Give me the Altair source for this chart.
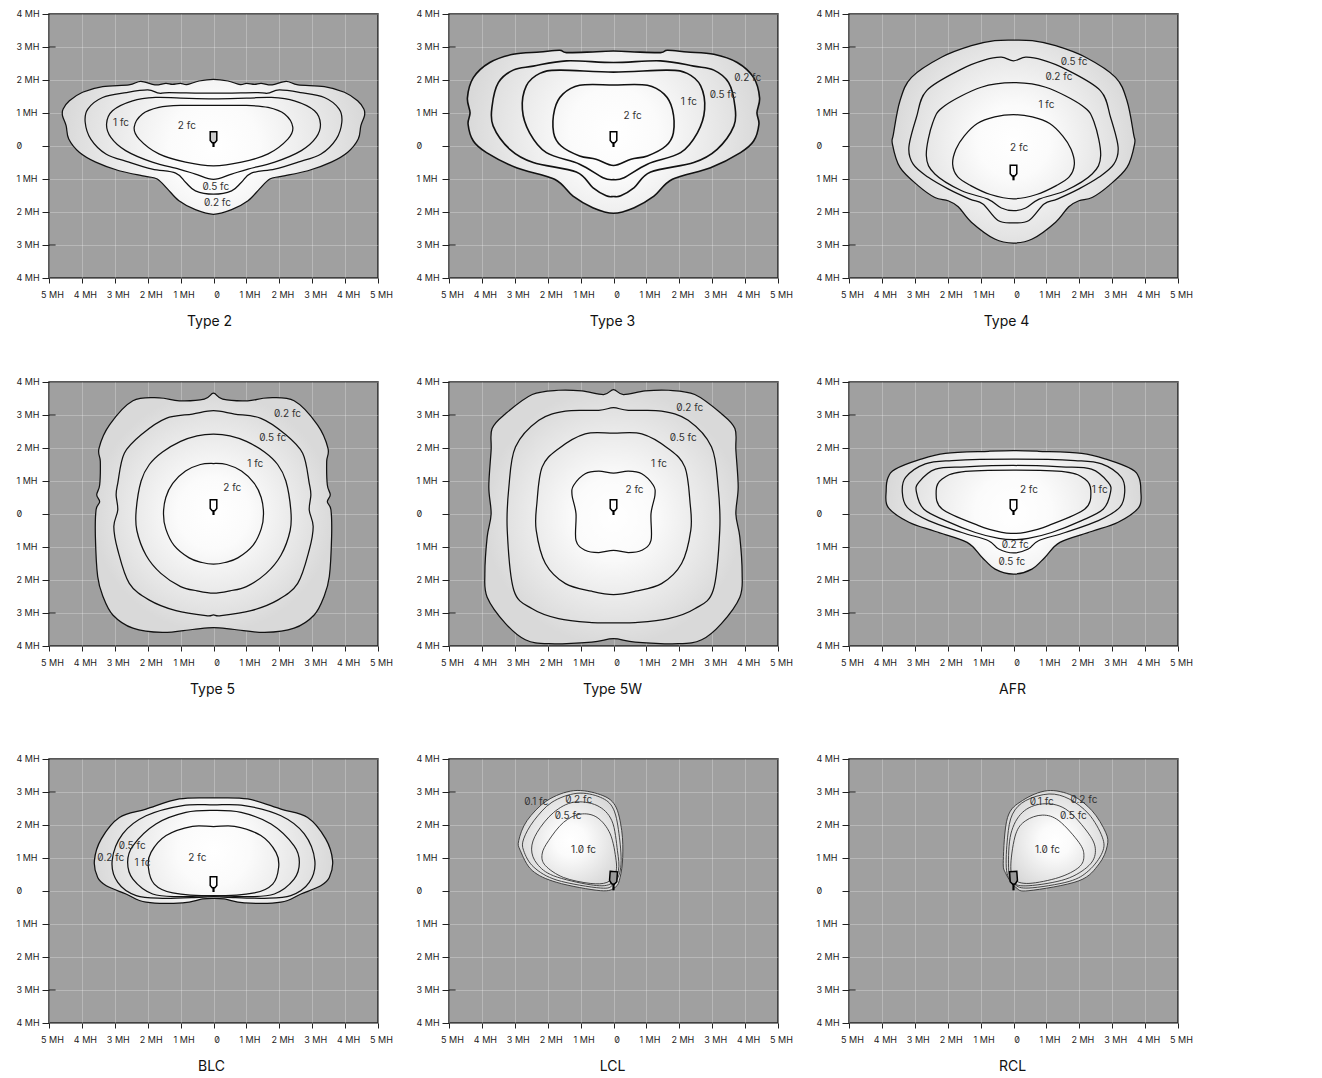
import altair as alt
import pandas as pd

FONT = "Inter"
Z = "0\u0338"
TICKS_X = [-5, -4, -3, -2, -1, 0, 1, 2, 3, 4, 5]
TICKS_Y = [-4, -3, -2, -1, 0, 1, 2, 3, 4]
LONG_TICKS = [-3, 3]

# right halves, top to bottom (mirrored about x = 0)
T2_A = [(0,2.02),(0.44,1.97),(0.81,1.86),(1.0,1.90),(1.25,1.87),(1.45,1.90),(1.78,1.85),(2.21,1.96),(2.57,1.85),(3.37,1.80),(3.98,1.63),(4.38,1.37),(4.57,1.12),(4.59,0.92),(4.48,0.62),(4.40,0.21),(4.08,-0.19),(3.58,-0.49),(2.87,-0.75),(2.06,-0.92),(1.71,-1.0),(1.40,-1.30),(1.05,-1.66),(0.55,-1.93),(0,-2.07)]
T2_B = [(0,1.6),(1.35,1.62),(1.65,1.60),(2.0,1.70),(2.65,1.62),(3.37,1.47),(3.82,1.12),(3.9,0.72),(3.73,0.21),(3.27,-0.24),(2.57,-0.49),(1.86,-0.7),(1.15,-0.82),(0.85,-1.1),(0.55,-1.36),(0,-1.46)]
T2_C = [(0,1.43),(1.0,1.45),(1.76,1.47),(2.46,1.37),(3.07,1.07),(3.25,0.67),(3.12,0.26),(2.67,-0.14),(1.86,-0.49),(1.05,-0.7),(0.55,-0.85),(0,-1.01)]
T2_D = [(0,1.23),(1.0,1.23),(1.66,1.17),(2.16,0.97),(2.41,0.57),(2.26,0.21),(1.66,-0.24),(0.85,-0.49),(0,-0.6)]
T3_A = [(0,2.88),(0.63,2.85),(1.43,2.83),(1.64,2.90),(2.24,2.85),(3.05,2.78),(3.76,2.53),(4.26,2.07),(4.44,1.46),(4.36,1.01),(4.42,0.66),(4.26,0.15),(3.86,-0.2),(2.95,-0.66),(1.79,-1.01),(1.23,-1.52),(0.63,-1.87),(0,-2.04)]
T3_B = [(0,2.53),(1.43,2.58),(2.44,2.42),(3.05,2.30),(3.5,1.92),(3.69,1.21),(3.66,0.61),(3.15,-0.1),(2.44,-0.5),(1.13,-0.79),(0.63,-1.26),(0.22,-1.51),(0,-1.53)]
T3_C = [(0,2.24),(1.64,2.30),(2.24,2.2),(2.65,1.82),(2.77,1.11),(2.55,0.40),(2.04,-0.2),(1.03,-0.55),(0.32,-0.96),(0,-1.02)]
T3_D = [(0,1.85),(1.03,1.84),(1.54,1.57),(1.79,1.11),(1.82,0.40),(1.59,0),(1.03,-0.3),(0.53,-0.4),(0,-0.59)]
T4_A = [(0,3.21),(0.57,3.19),(1.28,3.04),(2.19,2.69),(3.1,2.08),(3.45,1.37),(3.65,0.36),(3.68,0.06),(3.45,-0.65),(2.9,-1.2),(2.39,-1.56),(1.99,-1.66),(1.68,-1.84),(1.28,-2.31),(0.57,-2.82),(0,-2.94)]
T4_B = [(0,2.58),(0.37,2.69),(0.87,2.61),(1.58,2.33),(2.64,1.68),(2.95,0.87),(3.18,-0.04),(3.05,-0.55),(2.59,-0.95),(1.99,-1.3),(1.33,-1.61),(0.93,-1.76),(0.47,-2.26),(0,-2.33)]
T4_C = [(0,1.92),(0.98,1.78),(2.09,1.22),(2.45,0.72),(2.65,-0.29),(2.39,-0.85),(1.59,-1.35),(0.78,-1.61),(0.37,-1.88),(0,-1.96)]
T4_D = [(0,0.95),(0.57,0.88),(1.1,0.68),(1.5,0.3),(1.75,-0.1),(1.85,-0.55),(1.7,-0.93),(1.3,-1.2),(0.7,-1.47),(0,-1.6)]
T5_A = [(0,3.66),(0.28,3.48),(1.04,3.43),(1.65,3.52),(2.45,3.43),(3.16,2.70),(3.48,1.99),(3.44,1.59),(3.46,0.88),(3.55,0.58),(3.46,0.37),(3.57,0.12),(3.59,-0.69),(3.52,-1.9),(3.36,-2.5),(3.06,-3.06),(2.45,-3.46),(1.55,-3.59),(0.64,-3.5),(0,-3.44)]
T5_B = [(0,3.13),(0.64,3.03),(1.44,2.9),(2.15,2.44),(2.71,1.84),(2.91,0.93),(2.96,0.58),(2.91,0.12),(3.03,-0.38),(2.91,-1.09),(2.56,-2.1),(1.95,-2.61),(1.14,-2.93),(0.23,-3.08),(0,-3.06)]
T5_C = [(0,2.42),(0.5,2.37),(1.0,2.2),(1.55,1.88),(1.95,1.5),(2.2,1.0),(2.35,0.12),(2.33,-0.5),(2.05,-1.25),(1.6,-1.8),(1.0,-2.2),(0.5,-2.33),(0,-2.4)]
T5_D = [(0,1.53),(0.4,1.5),(0.85,1.3),(1.24,0.93),(1.45,0.5),(1.52,0),(1.45,-0.45),(1.2,-0.95),(0.74,-1.33),(0.35,-1.47),(0,-1.52)]
W_A = [(0,3.77),(0.30,3.62),(0.96,3.73),(1.67,3.75),(2.47,3.62),(3.28,3.04),(3.69,2.59),(3.72,1.93),(3.79,0.82),(3.72,0),(3.84,-0.7),(3.91,-1.81),(3.84,-2.52),(3.28,-3.32),(2.68,-3.81),(1.97,-3.93),(0.66,-3.88),(0,-3.78)]
W_B = [(0,3.22),(0.45,3.14),(1.46,3.12),(2.27,2.84),(2.98,2.03),(3.18,0.82),(3.23,-0.49),(3.03,-2.31),(2.47,-2.87),(1.67,-3.17),(0.66,-3.29),(0,-3.3)]
W_C = [(0,2.45),(0.86,2.43),(1.67,1.98),(2.17,1.42),(2.33,0.31),(2.35,-0.49),(2.07,-1.5),(1.46,-2.11),(0.66,-2.34),(0,-2.44)]
W_D = [(0,1.24),(0.45,1.3),(0.86,1.22),(1.21,0.87),(1.26,0.57),(1.14,0.01),(1.14,-0.8),(0.86,-1.1),(0.45,-1.17),(0,-1.1)]
AF_A = [(0,1.92),(0.76,1.90),(2.07,1.84),(2.88,1.64),(3.59,1.36),(3.81,1.11),(3.87,0.71),(3.81,0.2),(3.18,-0.25),(2.37,-0.53),(1.41,-0.86),(0.96,-1.31),(0.56,-1.67),(0,-1.82)]
AF_B = [(0,1.66),(1.87,1.62),(2.68,1.52),(3.28,1.11),(3.38,0.66),(3.23,0.2),(2.58,-0.2),(1.57,-0.56),(0.76,-0.81),(0.45,-1.06),(0,-1.18)]
AF_C = [(0,1.47),(1.46,1.43),(2.37,1.36),(2.88,0.96),(2.95,0.66),(2.73,0.15),(2.07,-0.2),(1.16,-0.56),(0.45,-0.74),(0,-0.78)]
AF_D = [(0,1.33),(1.57,1.28),(2.17,1.06),(2.35,0.71),(2.17,0.15),(1.06,-0.35),(0.35,-0.56),(0,-0.59)]
BL_A = [(0,2.82),(1.04,2.79),(2.05,2.48),(2.86,2.23),(3.41,1.58),(3.62,0.92),(3.52,0.41),(3.26,0.16),(2.66,-0.09),(2.05,-0.34),(0.94,-0.36),(0.33,-0.24),(0,-0.22)]
BL_B = [(0,2.61),(0.94,2.59),(2.05,2.28),(2.76,1.73),(3.08,0.92),(2.91,0.26),(2.35,-0.14),(1.55,-0.22),(0.43,-0.19),(0,-0.17)]
BL_C = [(0,2.44),(0.84,2.38),(1.75,2.03),(2.45,1.37),(2.61,0.87),(2.45,0.36),(1.85,-0.09),(1.04,-0.17),(0,-0.14)]
BL_D = [(0,1.95),(0.64,1.96),(1.44,1.68),(1.9,1.17),(1.98,0.72),(1.8,0.21),(1.24,-0.06),(0,-0.15)]
# complete closed outlines
LC_A = [(-1.21,3.04),(-0.4,2.92),(0.05,2.59),(0.25,1.83),(0.28,1.02),(0.2,0.41),(0.05,0.11),(-0.4,0.01),(-1.72,0.26),(-2.47,0.62),(-2.83,1.22),(-2.88,1.53),(-2.63,2.13),(-2.02,2.74)]
LC_B = [(-1.11,2.96),(-0.4,2.84),(0,2.48),(0.18,1.63),(0.22,0.72),(0,0.21),(-0.4,0.09),(-1.72,0.33),(-2.42,0.72),(-2.73,1.22),(-2.73,1.58),(-2.42,2.13),(-1.87,2.69)]
LC_C = [(-1.21,2.69),(-0.5,2.59),(-0.05,2.13),(0.12,1.22),(0.15,0.62),(-0.1,0.21),(-0.71,0.19),(-1.82,0.46),(-2.32,0.82),(-2.49,1.27),(-2.32,1.78),(-1.82,2.38)]
LC_D = [(-1.01,2.33),(-0.5,2.23),(-0.1,1.73),(0.08,0.92),(0.05,0.52),(-0.2,0.26),(-0.71,0.23),(-1.52,0.41),(-2.07,0.77),(-2.17,1.12),(-1.97,1.53),(-1.52,2.08)]
RC_A = [(1.03,3.04),(1.79,2.89),(2.39,2.43),(2.8,1.78),(2.85,1.37),(2.6,0.82),(1.99,0.31),(0.47,0.01),(0.07,0.11),(-0.23,0.52),(-0.31,0.92),(-0.18,2.23),(0.27,2.74)]
RC_B = [(1.08,2.94),(1.69,2.79),(2.29,2.33),(2.7,1.63),(2.7,1.17),(2.29,0.62),(1.69,0.29),(0.47,0.09),(0.02,0.21),(-0.21,0.62),(-0.18,1.63),(-0.03,2.33),(0.37,2.74)]
RC_C = [(0.88,2.64),(1.59,2.48),(2.29,1.73),(2.49,1.22),(2.29,0.77),(1.59,0.36),(0.47,0.16),(-0.03,0.26),(-0.15,0.72),(-0.08,1.73),(0.27,2.38)]
RC_D = [(0.88,2.3),(1.38,2.13),(1.99,1.47),(2.14,1.07),(1.99,0.72),(1.38,0.41),(0.47,0.23),(0.02,0.36),(-0.08,0.82),(0.07,1.73),(0.37,2.13)]

# contour labels: text, x, y
L_T2 = [("2 fc",-0.81,0.62),("1 fc",-2.81,0.69),(Z+".5 fc",0.07,-1.23),(Z+".2 fc",0.12,-1.73)]
L_T3 = [("2 fc",0.58,0.92),("1 fc",2.29,1.33),(Z+".5 fc",3.33,1.54),(Z+".2 fc",4.08,2.05)]
L_T4 = [("2 fc",0.17,-0.06),("1 fc",1.0,1.25),(Z+".2 fc",1.38,2.09),(Z+".5 fc",1.84,2.55)]
L_T5 = [("2 fc",0.57,0.79),("1 fc",1.27,1.52),(Z+".5 fc",1.8,2.31),(Z+".2 fc",2.25,3.04)]
L_W = [("2 fc",0.64,0.72),("1 fc",1.38,1.53),(Z+".5 fc",2.12,2.31),(Z+".2 fc",2.32,3.2)]
L_AF = [("2 fc",0.47,0.74),("1 fc",2.62,0.73),(Z+".2 fc",0.05,-0.94),(Z+".5 fc",-0.05,-1.44)]
L_BL = [("2 fc",-0.49,1.0),("1 fc",-2.16,0.85),(Z+".5 fc",-2.47,1.35),(Z+".2 fc",-3.12,0.99)]
L_LC = [(Z+".1 fc",-2.35,2.69),(Z+".2 fc",-1.06,2.77),(Z+".5 fc",-1.38,2.28),("1."+Z+" fc",-0.91,1.24)]
L_RC = [(Z+".1 fc",0.86,2.69),(Z+".2 fc",2.14,2.77),(Z+".5 fc",1.82,2.28),("1."+Z+" fc",1.03,1.24)]

# luminaire glyph outlines
ICON = [(-0.1,0.43),(0.1,0.43),(0.1,0.17),(0.04,0.1),(-0.04,0.1),(-0.1,0.17)]
ICON_TAIL = [(0,0.12),(0,-0.03)]
ICON_T4 = [(-0.1,-0.58),(0.1,-0.58),(0.1,-0.84),(0.04,-0.91),(-0.04,-0.91),(-0.1,-0.84)]
ICON_T4_TAIL = [(0,-0.89),(0,-1.04)]
ICON_LC = [(-0.1,0.6),(0.12,0.58),(0.1,0.28),(0.02,0.2),(-0.06,0.22),(-0.12,0.32)]
ICON_LC_TAIL = [(0,0.22),(0,0.02)]
ICON_RC = [(-0.12,0.58),(0.1,0.6),(0.12,0.32),(0.06,0.22),(-0.02,0.2),(-0.1,0.28)]
ICON_RC_TAIL = [(0,0.22),(0,0.02)]


def mirror(half):
    return half + [(-x, y) for x, y in reversed(half) if x != 0]


def frame(points):
    return pd.DataFrame({"x": [p[0] for p in points], "y": [p[1] for p in points], "i": range(len(points))})


GRAD = {"gradient": "radial", "stops": [
    {"offset": 0, "color": "#ffffff"}, {"offset": 0.3, "color": "#fbfbfb"},
    {"offset": 1, "color": "#d9d9d9"}]}
SX = alt.Scale(domain=[-5, 5], nice=False, zero=False)
SY = alt.Scale(domain=[-4, 4], nice=False, zero=False)
LABEL = f"datum.value == 0 ? '{Z}' : abs(datum.value) + ' MH'"


def outline(points, sw, color="#111111", interp="cardinal-closed", **mark):
    return alt.Chart(frame(points)).mark_line(
        interpolate=interp, stroke=color, strokeWidth=sw, **mark
    ).encode(x=alt.X("x:Q", scale=SX, axis=None), y=alt.Y("y:Q", scale=SY, axis=None), order="i:Q")


def panel(title, title_x, contours, labels, icon, tail, sw=1.25, color="#111111", icon_fill="#ffffff00"):
    axes = alt.Chart(pd.DataFrame({"x": [0], "y": [0]})).mark_point(opacity=0).encode(
        x=alt.X("x:Q", scale=SX, axis=alt.Axis(
            values=TICKS_X, labelExpr=LABEL, title=title, titleX=title_x, titleFont=FONT, titleFontSize=14,
            titleFontWeight="normal", titleColor="#111", titlePadding=15, labelFont=FONT,
            labelFontSize=9, labelColor="#222", labelPadding=7, labelOffset=3, tickSize=5,
            tickColor="#222", domain=False, grid=True, gridColor="#ffffff", gridOpacity=0.25,
            gridWidth=1, labelFlush=False, labelOverlap=False)),
        y=alt.Y("y:Q", scale=SY, axis=alt.Axis(
            values=TICKS_Y, labelExpr=LABEL, title=None, labelFont=FONT, labelFontSize=9,
            labelColor="#222", labelAlign="left", labelPadding=26, labelOffset=-1, tickSize=7,
            tickColor="#222", domain=False, grid=True, gridColor="#ffffff", gridOpacity=0.25,
            gridWidth=1, labelFlush=False, labelOverlap=False)),
    )
    long_ticks = alt.Chart(pd.DataFrame({"x": [-5] * len(LONG_TICKS), "x2": [-4.8] * len(LONG_TICKS), "y": LONG_TICKS})).mark_rule(
        color="#222", strokeWidth=1).encode(
        x=alt.X("x:Q", scale=SX, axis=None), x2="x2:Q", y=alt.Y("y:Q", scale=SY, axis=None))
    parts = [axes, long_ticks, outline(contours[0], sw, color, fill=GRAD)]
    parts += [outline(c, sw, color) for c in contours[1:]]
    text = pd.DataFrame(labels, columns=["t", "x", "y"])
    parts.append(alt.Chart(text).mark_text(font=FONT, fontSize=10, color="#333").encode(
        x=alt.X("x:Q", scale=SX, axis=None), y=alt.Y("y:Q", scale=SY, axis=None), text="t:N"))
    parts.append(outline(icon, 1.5, "#000000", interp="linear-closed", fill=icon_fill))
    parts.append(alt.Chart(frame(tail)).mark_line(stroke="#000000", strokeWidth=2.2).encode(
        x=alt.X("x:Q", scale=SX, axis=None), y=alt.Y("y:Q", scale=SY, axis=None), order="i:Q"))
    return alt.layer(*parts).resolve_axis(x="independent", y="independent").properties(width=329, height=264)


row1 = alt.hconcat(
    panel("Type 2", 160, [mirror(T2_A), mirror(T2_B), mirror(T2_C), mirror(T2_D)], L_T2, ICON, ICON_TAIL, icon_fill="#cccccc"),
    panel("Type 3", 163, [mirror(T3_A), mirror(T3_B), mirror(T3_C), mirror(T3_D)], L_T3, ICON, ICON_TAIL, sw=1.6),
    panel("Type 4", 157, [mirror(T4_A), mirror(T4_B), mirror(T4_C), mirror(T4_D)], L_T4, ICON_T4, ICON_T4_TAIL),
    spacing=21)
row2 = alt.hconcat(
    panel("Type 5", 163, [mirror(T5_A), mirror(T5_B), mirror(T5_C), mirror(T5_D)], L_T5, ICON, ICON_TAIL),
    panel("Type 5W", 163, [mirror(W_A), mirror(W_B), mirror(W_C), mirror(W_D)], L_W, ICON, ICON_TAIL),
    panel("AFR", 163, [mirror(AF_A), mirror(AF_B), mirror(AF_C), mirror(AF_D)], L_AF, ICON, ICON_TAIL),
    spacing=21)
row3 = alt.hconcat(
    panel("BLC", 162, [mirror(BL_A), mirror(BL_B), mirror(BL_C), mirror(BL_D)], L_BL, ICON, ICON_TAIL),
    panel("LCL", 163, [LC_A, LC_B, LC_C, LC_D], L_LC, ICON_LC, ICON_LC_TAIL, sw=0.9, color="#333333", icon_fill="#999999"),
    panel("RCL", 163, [RC_A, RC_B, RC_C, RC_D], L_RC, ICON_RC, ICON_RC_TAIL, sw=0.9, color="#333333", icon_fill="#999999"),
    spacing=21)

chart = alt.vconcat(alt.vconcat(row1, row2, spacing=47), row3, spacing=56).properties(
    padding={"left": 7, "top": 0, "right": 0, "bottom": 0}, background="#ffffff"
).configure_view(fill="#a0a0a0", stroke="#222222", strokeWidth=1.5)

chart.save("out.html", embed_options={"renderer": "svg", "actions": False})
